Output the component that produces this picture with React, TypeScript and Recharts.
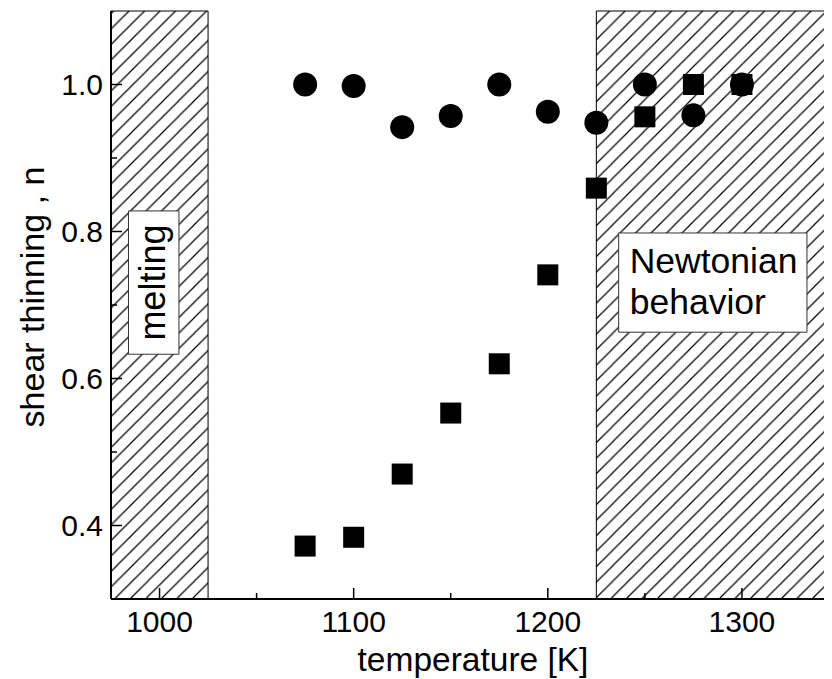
import { ScatterChart, Scatter, XAxis, YAxis, ReferenceArea, Label } from 'recharts';

const temperatures = [1075, 1100, 1125, 1150, 1175, 1200, 1225, 1250, 1275, 1300];
const circleN = [1.0, 0.998, 0.942, 0.957, 1.0, 0.963, 0.948, 1.0, 0.958, 1.0];
const squareN = [0.372, 0.384, 0.47, 0.553, 0.62, 0.741, 0.859, 0.956, 1.0, 1.0];

const xTicks = [1000, 1050, 1100, 1150, 1200, 1250, 1300];
const xMajor = [1000, 1100, 1200, 1300];
const yTicks = [0.4, 0.5, 0.6, 0.7, 0.8, 0.9, 1.0];
const yMajor = [0.4, 0.6, 0.8, 1.0];

const X_DOMAIN: [number, number] = [975, 1350];
const Y_DOMAIN: [number, number] = [0.3, 1.1];

// shaded regions and label boxes (data coords)
const MELT_END = 1025;
const NEWTON_START = 1225;
const meltBox = { x1: 984, x2: 1010, y1: 0.633, y2: 0.828 };
const newtonBox = { x1: 1236.5, x2: 1333.5, y1: 0.663, y2: 0.798 };

const FONT = '"Liberation Sans", Arial, sans-serif';
const MAJOR_LEN = 11;
const MINOR_LEN = 6;

const circleData = temperatures.map((t, i) => ({ t, n: circleN[i] }));
const squareData = temperatures.map((t, i) => ({ t, n: squareN[i] }));

const BottomTick = (props: any) => {
  const { x, y, payload } = props;
  const major = xMajor.includes(payload.value);
  const ay = y - 12;
  return (
    <g>
      <line x1={x} x2={x} y1={ay} y2={ay - (major ? MAJOR_LEN : MINOR_LEN)} stroke="#000" strokeWidth={1.5} />
      {major && (
        <text x={x} y={y} dy="0.71em" textAnchor="middle" fontSize={30} fontFamily={FONT} fill="#000">
          {payload.value}
        </text>
      )}
    </g>
  );
};

const TopTick = (props: any) => {
  const { x, y, payload } = props;
  const major = xMajor.includes(payload.value);
  return <line x1={x} x2={x} y1={y} y2={y + (major ? MAJOR_LEN : MINOR_LEN)} stroke="#000" strokeWidth={1.5} />;
};

const LeftTick = (props: any) => {
  const { x, y, payload } = props;
  const major = yMajor.some((m) => Math.abs(m - payload.value) < 1e-6);
  const ax = x + 8;
  return (
    <g>
      <line x1={ax} x2={ax + (major ? MAJOR_LEN : MINOR_LEN)} y1={y} y2={y} stroke="#000" strokeWidth={1.5} />
      {major && (
        <text x={x} y={y} dy="0.355em" textAnchor="end" fontSize={30} fontFamily={FONT} fill="#000">
          {Number(payload.value).toFixed(1)}
        </text>
      )}
    </g>
  );
};

const RightTick = (props: any) => {
  const { x, y, payload } = props;
  const major = yMajor.some((m) => Math.abs(m - payload.value) < 1e-6);
  return <line x1={x} x2={x - (major ? MAJOR_LEN : MINOR_LEN)} y1={y} y2={y} stroke="#000" strokeWidth={1.5} />;
};

const MeltingText = (props: any) => {
  const { x, y, height } = props.viewBox;
  const cx = x + 37;
  const cy = y + height / 2;
  return (
    <text x={cx} y={cy} transform={`rotate(-90 ${cx} ${cy})`} textAnchor="middle" fontSize={36} fontFamily={FONT} fill="#000">
      melting
    </text>
  );
};

const NewtonText = (props: any) => {
  const { x, y } = props.viewBox;
  return (
    <text fontSize={35.5} fontFamily={FONT} fill="#000">
      <tspan x={x + 11} y={y + 40}>Newtonian</tspan>
      <tspan x={x + 11} y={y + 81}>behavior</tspan>
    </text>
  );
};

const YTitle = (props: any) => {
  const { y, height } = props.viewBox;
  const cx = 36;
  const cy = y + height / 2 - 8;
  return (
    <text x={cx} y={cy} transform={`rotate(-90 ${cx} ${cy})`} textAnchor="middle" fontSize={34} fontFamily={FONT} fill="#000">
      shear thinning , n
    </text>
  );
};

const XTitle = (props: any) => {
  const { x, y, width, height } = props.viewBox;
  return (
    <text x={x + width / 2 - 2} y={y + height - 8} textAnchor="middle" fontSize={33.5} fontFamily={FONT} fill="#000">
      temperature [K]
    </text>
  );
};

const Circle = (props: any) => <circle cx={props.cx} cy={props.cy} r={12} fill="#000" />;
const Square = (props: any) => <rect x={props.cx - 10.5} y={props.cy - 10.5} width={21} height={21} fill="#000" />;

export default function App() {
  return (
    <div style={{ width: 824, height: 671, overflow: 'hidden' }}>
      <ScatterChart width={836} height={671} margin={{ top: 3, right: 5, left: 0, bottom: 0 }}>
        <defs>
          <pattern id="hatch" patternUnits="userSpaceOnUse" width={15.5} height={15.5}>
            <path d="M0,15.5 L15.5,0 M-2,2 L2,-2 M13.5,17.5 L17.5,13.5" stroke="#000" strokeWidth={1.2} />
          </pattern>
        </defs>
        <XAxis
          type="number"
          dataKey="t"
          domain={X_DOMAIN}
          ticks={xTicks}
          interval={0}
          allowDataOverflow
          height={80}
          tickSize={0}
          tickMargin={12}
          tickLine={false}
          tick={<BottomTick />}
          axisLine={{ stroke: '#000', strokeWidth: 2 }}
        >
          <Label content={<XTitle />} />
        </XAxis>
        <XAxis
          xAxisId="top"
          orientation="top"
          type="number"
          domain={X_DOMAIN}
          ticks={xTicks}
          interval={0}
          allowDataOverflow
          height={0}
          tickSize={0}
          tickMargin={0}
          tickLine={false}
          tick={<TopTick />}
          axisLine={{ stroke: '#000', strokeWidth: 2 }}
        />
        <YAxis
          type="number"
          dataKey="n"
          domain={Y_DOMAIN}
          ticks={yTicks}
          interval={0}
          allowDataOverflow
          width={103}
          tickSize={0}
          tickMargin={8}
          tickLine={false}
          tick={<LeftTick />}
          axisLine={{ stroke: '#000', strokeWidth: 2 }}
        >
          <Label content={<YTitle />} />
        </YAxis>
        <YAxis
          yAxisId="right"
          orientation="right"
          type="number"
          domain={Y_DOMAIN}
          ticks={yTicks}
          interval={0}
          allowDataOverflow
          width={0}
          tickSize={0}
          tickMargin={0}
          tickLine={false}
          tick={<RightTick />}
          axisLine={{ stroke: '#000', strokeWidth: 2 }}
        />
        <ReferenceArea x1={X_DOMAIN[0]} x2={MELT_END} y1={Y_DOMAIN[0]} y2={Y_DOMAIN[1]} fill="url(#hatch)" fillOpacity={1} stroke="#000" strokeWidth={1} />
        <ReferenceArea x1={NEWTON_START} x2={X_DOMAIN[1]} y1={Y_DOMAIN[0]} y2={Y_DOMAIN[1]} fill="url(#hatch)" fillOpacity={1} stroke="#000" strokeWidth={1} />
        <ReferenceArea {...meltBox} fill="#fff" fillOpacity={1} stroke="#333" strokeWidth={1} label={<MeltingText />} />
        <ReferenceArea {...newtonBox} fill="#fff" fillOpacity={1} stroke="#333" strokeWidth={1} label={<NewtonText />} />
        <Scatter data={circleData} shape={<Circle />} isAnimationActive={false} />
        <Scatter data={squareData} shape={<Square />} isAnimationActive={false} />
      </ScatterChart>
    </div>
  );
}
